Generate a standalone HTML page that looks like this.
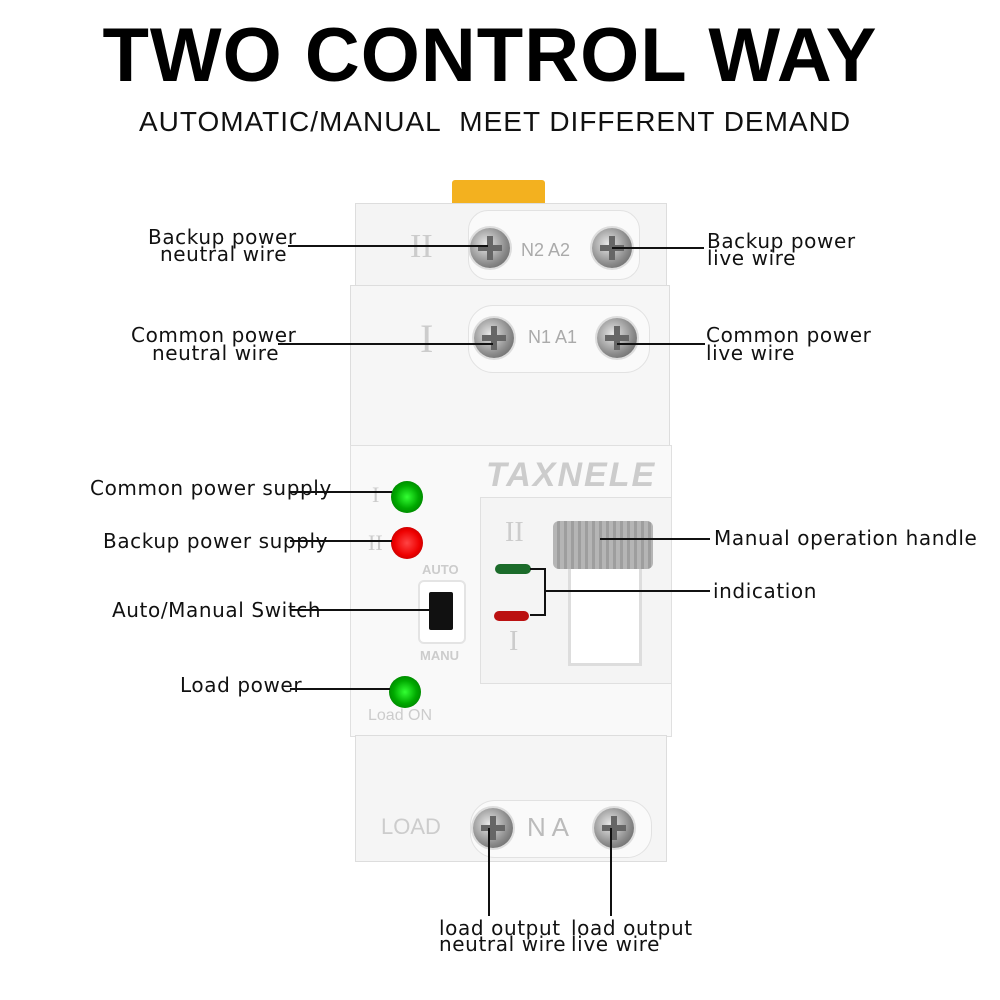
<!DOCTYPE html>
<html><head><style>
body{margin:0;width:1000px;height:1000px;background:#fff;position:relative;overflow:hidden;font-family:"Liberation Sans",sans-serif}
.a{position:absolute}
.t{position:absolute;font-family:"DejaVu Sans",sans-serif;font-size:20px;letter-spacing:0.6px;color:#111;white-space:nowrap;line-height:18px}
.l{position:absolute;height:2px;background:#111}
.v{position:absolute;width:2px;background:#111}
.screw{position:absolute;width:40px;height:40px;border-radius:50%;background:radial-gradient(circle at 40% 40%,#e8e8e8,#8a8a8a 60%,#555);box-shadow:0 0 0 2px #ddd}
.screw:before{content:"";position:absolute;left:8px;top:17px;width:24px;height:6px;background:#666}
.screw:after{content:"";position:absolute;left:17px;top:8px;width:6px;height:24px;background:#666}
.rom{position:absolute;font-family:"Liberation Serif",serif;color:#ccc}
.led{position:absolute;width:32px;height:32px;border-radius:50%}
</style></head><body>
<div class="a" style="left:0;top:12px;width:980px;text-align:center;font-size:76px;font-weight:900;letter-spacing:1px;color:#000">TWO CONTROL WAY</div>
<div class="a" style="left:0;top:106px;width:990px;text-align:center;font-size:28px;color:#111;letter-spacing:1px">AUTOMATIC/MANUAL&nbsp; MEET DIFFERENT DEMAND</div>

<!-- device -->
<div class="a" style="left:452px;top:180px;width:93px;height:26px;background:#f3b11f;border-radius:3px"></div>
<div class="a" style="left:355px;top:203px;width:310px;height:85px;background:#f4f4f4;border:1px solid #ddd"></div>
<div class="a" style="left:468px;top:210px;width:170px;height:68px;background:#fafafa;border-radius:20px;border:1px solid #e2e2e2"></div>
<div class="a" style="left:350px;top:285px;width:318px;height:160px;background:#f6f6f6;border:1px solid #ddd"></div>
<div class="a" style="left:468px;top:305px;width:180px;height:66px;background:#fafafa;border-radius:25px;border:1px solid #e2e2e2"></div>
<div class="a" style="left:350px;top:445px;width:320px;height:290px;background:#f9f9f9;border:1px solid #e0e0e0"></div>
<div class="a" style="left:355px;top:735px;width:310px;height:125px;background:#f5f5f5;border:1px solid #ddd"></div>
<div class="a" style="left:470px;top:800px;width:180px;height:56px;background:#fafafa;border-radius:25px;border:1px solid #e2e2e2"></div>

<div class="rom" style="left:410px;top:228px;font-size:34px">II</div>
<div class="rom" style="left:420px;top:315px;font-size:40px">I</div>
<div class="screw" style="left:470px;top:228px"></div>
<div class="screw" style="left:592px;top:228px"></div>
<div class="screw" style="left:474px;top:318px"></div>
<div class="screw" style="left:597px;top:318px"></div>
<div class="a" style="left:521px;top:240px;font-size:18px;color:#aaa">N2 A2</div>
<div class="a" style="left:528px;top:327px;font-size:18px;color:#aaa">N1 A1</div>

<div class="a" style="left:486px;top:456px;font-size:34px;font-style:italic;font-weight:bold;color:#ccc;letter-spacing:2px">TAXNELE</div>
<div class="rom" style="left:372px;top:482px;font-size:22px">I</div>
<div class="rom" style="left:368px;top:530px;font-size:22px">II</div>
<div class="led" style="left:391px;top:481px;background:radial-gradient(circle,#3f3 0,#0a0 50%,#060)"></div>
<div class="led" style="left:391px;top:527px;background:radial-gradient(circle,#f44 0,#e00 55%,#900)"></div>
<div class="a" style="left:422px;top:562px;font-size:13px;font-weight:bold;color:#ccc">AUTO</div>
<div class="a" style="left:418px;top:580px;width:44px;height:60px;border:2px solid #e4e4e4;border-radius:6px;background:#fff"></div>
<div class="a" style="left:429px;top:592px;width:24px;height:38px;background:#111;border-radius:2px"></div>
<div class="a" style="left:420px;top:648px;font-size:13px;font-weight:bold;color:#ccc">MANU</div>
<div class="led" style="left:389px;top:676px;background:radial-gradient(circle,#3f3 0,#0a0 50%,#060)"></div>
<div class="a" style="left:368px;top:707px;font-size:16px;color:#ccc">Load ON</div>

<div class="a" style="left:480px;top:497px;width:190px;height:185px;background:#f4f4f4;border:1px solid #e0e0e0"></div>
<div class="rom" style="left:505px;top:517px;font-size:28px">II</div>
<div class="rom" style="left:509px;top:626px;font-size:28px">I</div>
<div class="a" style="left:495px;top:564px;width:36px;height:10px;border-radius:5px;background:#1b6b2a"></div>
<div class="a" style="left:494px;top:611px;width:35px;height:10px;border-radius:5px;background:#b11"></div>
<div class="a" style="left:568px;top:565px;width:68px;height:95px;background:#fff;border:3px solid #ddd"></div>
<div class="a" style="left:553px;top:521px;width:100px;height:48px;background:repeating-linear-gradient(90deg,#b5b5b5 0 4px,#9e9e9e 4px 7px);border-radius:6px"></div>

<div class="a" style="left:381px;top:814px;font-size:22px;color:#ccc">LOAD</div>
<div class="a" style="left:527px;top:812px;font-size:26px;color:#bbb">N A</div>
<div class="screw" style="left:473px;top:808px"></div>
<div class="screw" style="left:594px;top:808px"></div>

<!-- labels -->
<div class="t" style="left:148px;top:228px">Backup power</div>
<div class="t" style="left:160px;top:245px">neutral wire</div>
<div class="l" style="left:288px;top:245px;width:200px"></div>
<div class="t" style="left:707px;top:232px">Backup power</div>
<div class="t" style="left:707px;top:249px">live wire</div>
<div class="l" style="left:612px;top:247px;width:92px"></div>

<div class="t" style="left:131px;top:326px">Common power</div>
<div class="t" style="left:152px;top:344px">neutral wire</div>
<div class="l" style="left:278px;top:343px;width:215px"></div>
<div class="t" style="left:706px;top:326px">Common power</div>
<div class="t" style="left:706px;top:344px">live wire</div>
<div class="l" style="left:617px;top:343px;width:88px"></div>

<div class="t" style="left:90px;top:479px">Common power supply</div>
<div class="l" style="left:290px;top:491px;width:102px"></div>
<div class="t" style="left:103px;top:532px">Backup power supply</div>
<div class="l" style="left:290px;top:540px;width:102px"></div>
<div class="t" style="left:112px;top:601px">Auto/Manual Switch</div>
<div class="l" style="left:290px;top:609px;width:140px"></div>
<div class="t" style="left:180px;top:676px">Load power</div>
<div class="l" style="left:290px;top:688px;width:100px"></div>

<div class="t" style="left:714px;top:529px">Manual operation handle</div>
<div class="l" style="left:600px;top:538px;width:110px"></div>
<div class="t" style="left:713px;top:582px">indication</div>
<div class="l" style="left:545px;top:590px;width:165px"></div>
<div class="l" style="left:530px;top:568px;width:16px"></div>
<div class="l" style="left:530px;top:614px;width:16px"></div>
<div class="v" style="left:544px;top:568px;height:48px"></div>

<div class="v" style="left:488px;top:828px;height:88px"></div>
<div class="v" style="left:610px;top:828px;height:88px"></div>
<div class="t" style="left:439px;top:919px">load output</div>
<div class="t" style="left:439px;top:935px">neutral wire</div>
<div class="t" style="left:571px;top:919px">load output</div>
<div class="t" style="left:571px;top:935px">live wire</div>
</body></html>
